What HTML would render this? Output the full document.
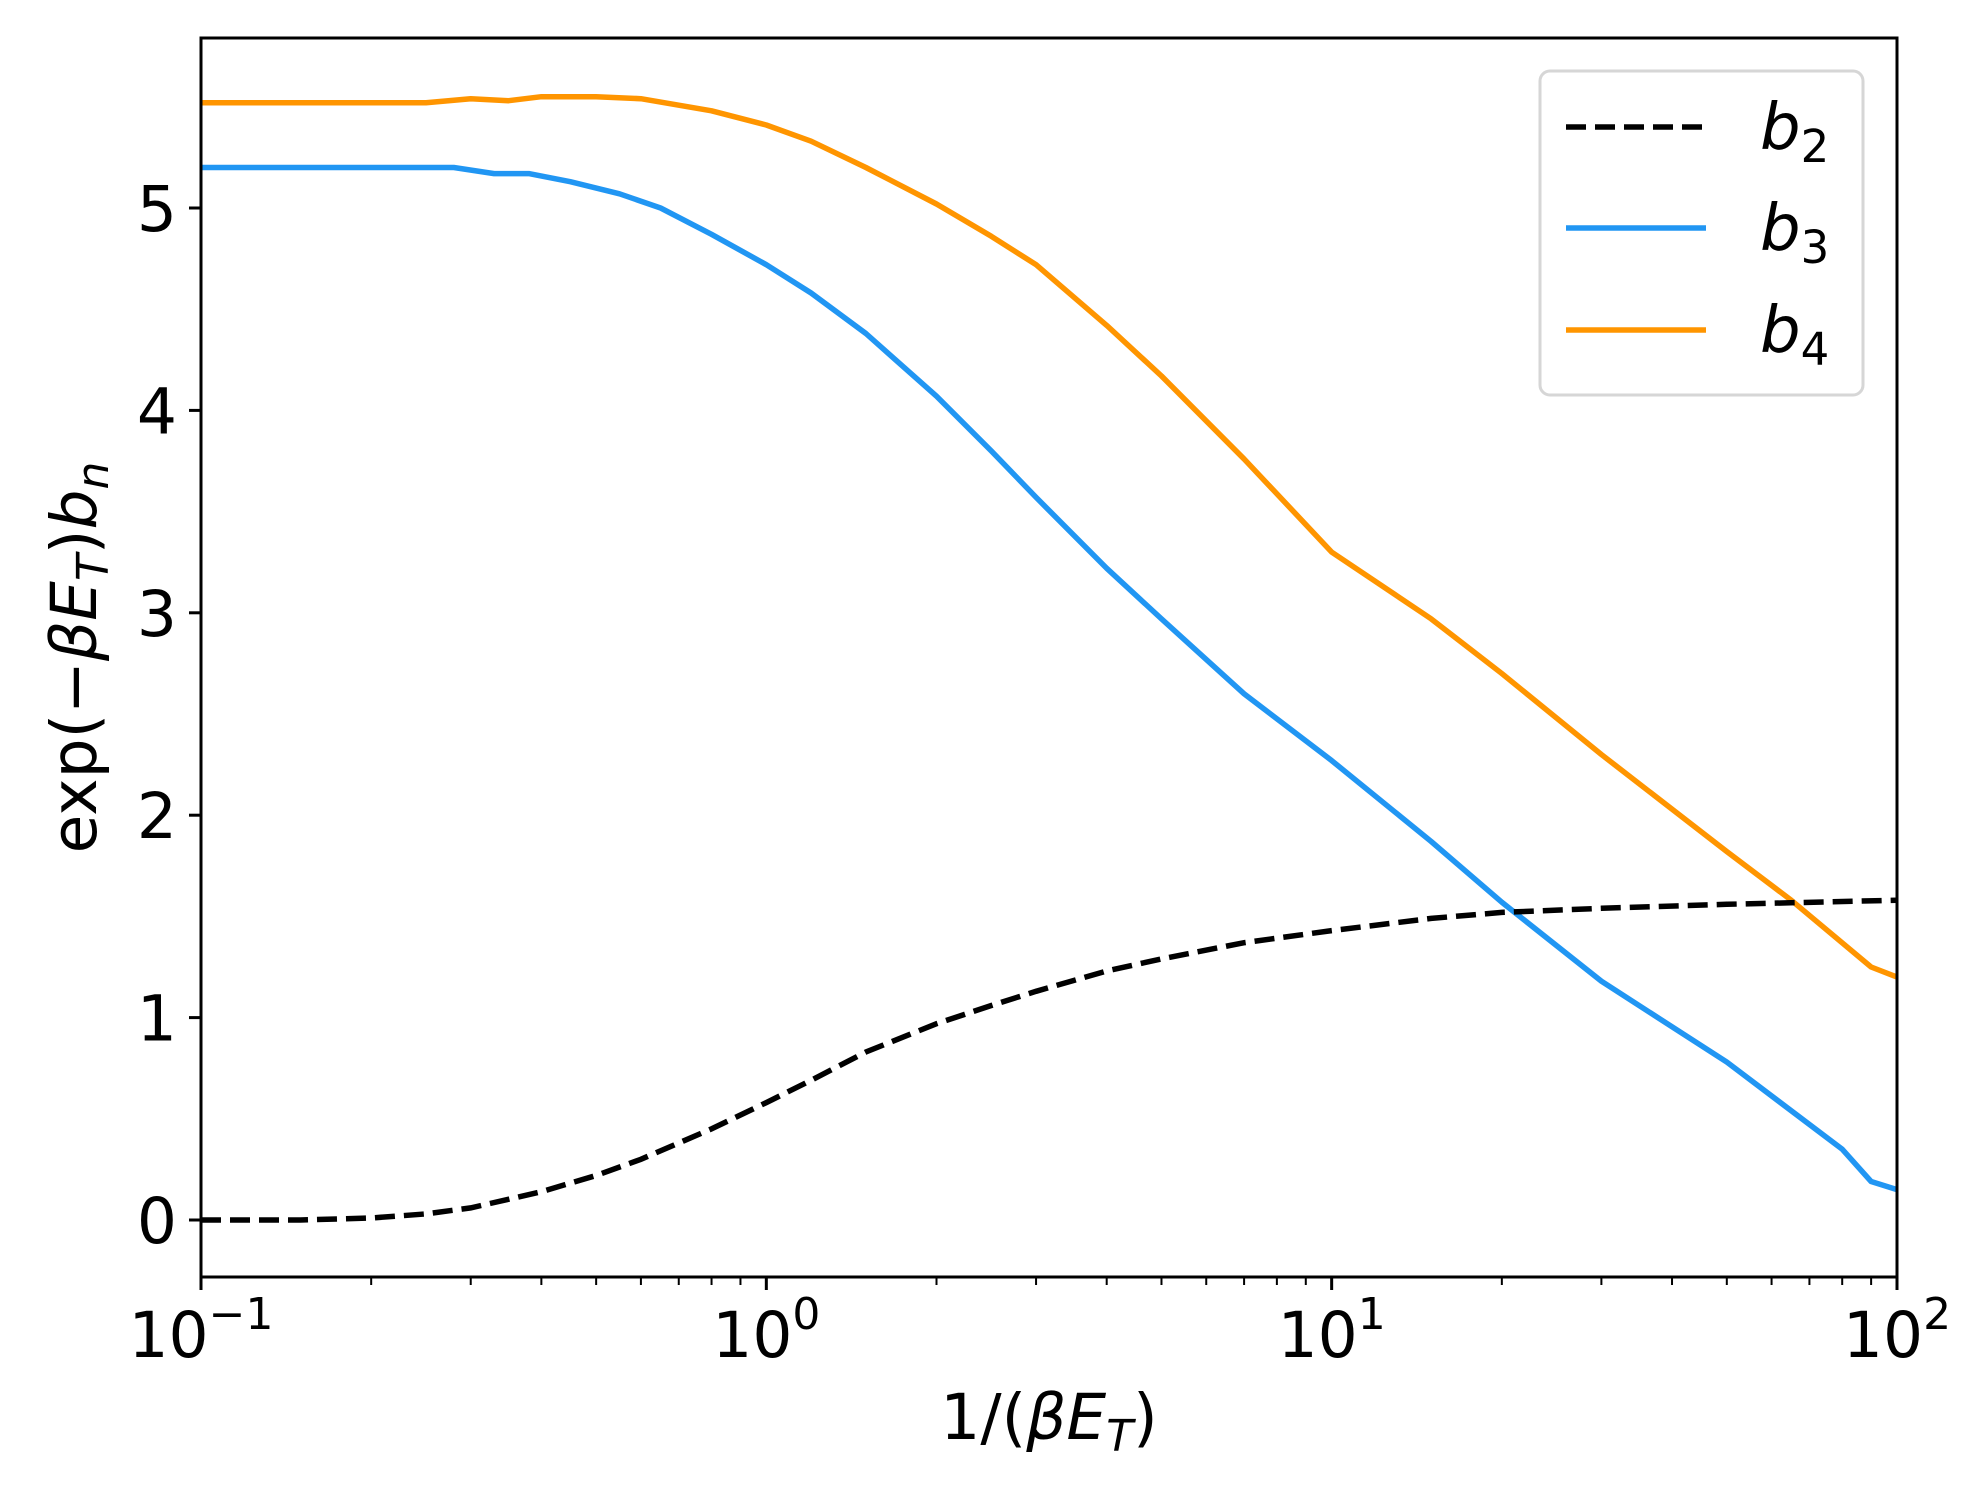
<!DOCTYPE html>
<html><head><meta charset="utf-8"><style>body{margin:0;background:#fff}svg{display:block}</style></head>
<body>
<svg id="s" width="1980" height="1493" xmlns="http://www.w3.org/2000/svg" font-family="DejaVu Sans, Liberation Sans, sans-serif"></svg>
<script>
const L=201,R=1897,T=38,B=1277;
const X=v=>L+(Math.log10(v)+1)*565.33;
const Y=v=>1220-v*202.4;
const b2=[[0.1,0],[0.15,0],[0.2,0.01],[0.25,0.03],[0.3,0.06],[0.4,0.14],[0.5,0.22],[0.6,0.3],[0.8,0.45],[1,0.58],[1.2,0.69],[1.5,0.83],[2,0.97],[2.5,1.06],[3,1.13],[4,1.23],[5,1.29],[7,1.37],[10,1.43],[15,1.49],[20,1.52],[30,1.54],[50,1.56],[100,1.58]];
const b3=[[0.1,5.2],[0.28,5.2],[0.33,5.17],[0.38,5.17],[0.45,5.13],[0.55,5.07],[0.65,5.0],[0.8,4.87],[1,4.72],[1.2,4.58],[1.5,4.38],[2,4.07],[2.5,3.8],[3,3.57],[4,3.22],[5,2.97],[7,2.6],[10,2.27],[15,1.87],[20,1.57],[30,1.18],[50,0.78],[80,0.35],[90,0.19],[100,0.15]];
const b4=[[0.1,5.52],[0.25,5.52],[0.3,5.54],[0.35,5.53],[0.4,5.55],[0.5,5.55],[0.6,5.54],[0.8,5.48],[1,5.41],[1.2,5.33],[1.5,5.2],[2,5.02],[2.5,4.86],[3,4.72],[4,4.42],[5,4.17],[7,3.76],[10,3.3],[15,2.97],[20,2.7],[30,2.3],[50,1.82],[65,1.58],[90,1.25],[100,1.2]];
const P=d=>d.map((p,i)=>(i?'L':'M')+X(p[0]).toFixed(1)+' '+Y(p[1]).toFixed(1)).join(' ');
let h='';
h+=`<path d="${P(b4)}" fill="none" stroke="#ff9500" stroke-width="5.5" stroke-linejoin="round"/>`;
h+=`<path d="${P(b3)}" fill="none" stroke="#2196f3" stroke-width="5.5" stroke-linejoin="round"/>`;
h+=`<path d="${P(b2)}" fill="none" stroke="#000" stroke-width="5.5" stroke-dasharray="20 9"/>`;
h+=`<rect x="${L}" y="${T}" width="${R-L}" height="${B-T}" fill="none" stroke="#000" stroke-width="3"/>`;
for(let v=0;v<=5;v++){const y=Y(v);h+=`<line x1="${L-12}" x2="${L}" y1="${y}" y2="${y}" stroke="#000" stroke-width="3"/><text x="${L-24}" y="${y+23}" font-size="63" text-anchor="end">${v}</text>`;}
for(let d=-1;d<=2;d++){const x=L+(d+1)*565.33;h+=`<line x1="${x}" x2="${x}" y1="${B}" y2="${B+13}" stroke="#000" stroke-width="3"/><text x="${x}" y="${B+80}" font-size="63" text-anchor="middle">10<tspan dy="-28" font-size="44">${d<0?'\u22121':d}</tspan></text>`;
 if(d<2)for(let m=2;m<10;m++){const xm=L+(d+1+Math.log10(m))*565.33;h+=`<line x1="${xm}" x2="${xm}" y1="${B}" y2="${B+8}" stroke="#000" stroke-width="2"/>`;}}
h+=`<text x="${(L+R)/2}" y="${B+162}" font-size="63" text-anchor="middle">1/(<tspan font-style="italic">βE</tspan><tspan font-style="italic" font-size="44" dy="12">T</tspan><tspan dy="-12">)</tspan></text>`;
h+=`<text transform="translate(96 ${(T+B)/2}) rotate(-90)" font-size="63" text-anchor="middle">exp(−<tspan font-style="italic">βE</tspan><tspan font-style="italic" font-size="44" dy="12">T</tspan><tspan dy="-12">)</tspan><tspan font-style="italic">b</tspan><tspan font-style="italic" font-size="44" dy="12">n</tspan></text>`;
h+=`<rect x="1540" y="71" width="323" height="324" rx="10" fill="#fff" stroke="#d6d6d6" stroke-width="3"/>`;
const lg=[['#000','20 9',127,'2'],['#2196f3','',228,'3'],['#ff9500','',330,'4']];
lg.forEach(g=>{h+=`<line x1="1566" x2="1706" y1="${g[2]}" y2="${g[2]}" stroke="${g[0]}" stroke-width="5.5" ${g[1]?'stroke-dasharray="'+g[1]+'"':''}/><text x="1760" y="${g[2]+22}" font-size="64" font-style="italic">b<tspan font-style="normal" font-size="45" dy="13">${g[3]}</tspan></text>`;});
document.getElementById('s').innerHTML=h;
</script>
</body></html>
